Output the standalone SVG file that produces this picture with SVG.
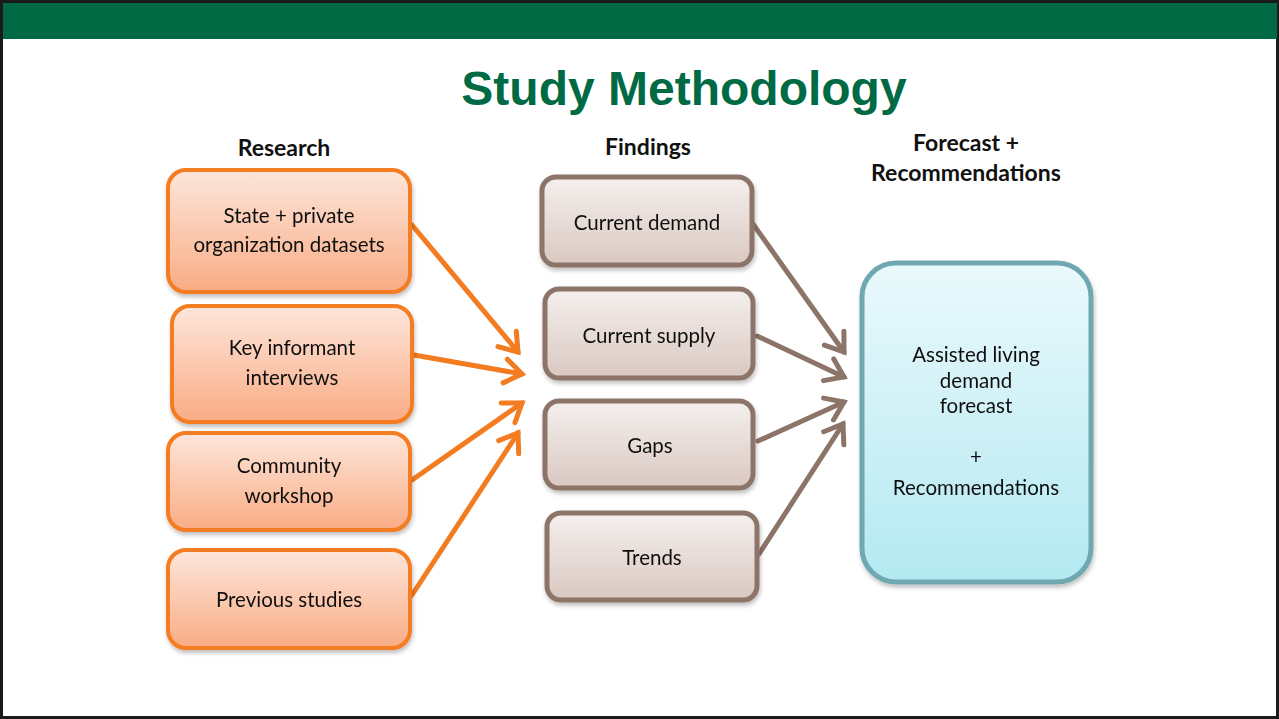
<svg xmlns="http://www.w3.org/2000/svg" width="1279" height="719" viewBox="0 0 1279 719">
<defs>
<linearGradient id="gO" x1="0" y1="0" x2="0" y2="1"><stop offset="0" stop-color="#FDE6DB"/><stop offset="1" stop-color="#F9AC84"/></linearGradient>
<linearGradient id="gB" x1="0" y1="0" x2="0" y2="1"><stop offset="0" stop-color="#F4EFED"/><stop offset="1" stop-color="#DAC8C1"/></linearGradient>
<linearGradient id="gC" x1="0" y1="0" x2="0" y2="1"><stop offset="0" stop-color="#EAF9FC"/><stop offset="1" stop-color="#B3E9F1"/></linearGradient>
<filter id="sh" x="-10%" y="-10%" width="125%" height="130%"><feDropShadow dx="1" dy="3" stdDeviation="2" flood-color="#000" flood-opacity="0.25"/></filter>
<marker id="aO" markerUnits="userSpaceOnUse" viewBox="-25 -15 30 30" refX="0" refY="0" markerWidth="30" markerHeight="30" orient="auto" overflow="visible"><path d="M-17,-12 L0,0 L-17,12" fill="none" stroke="#F47C20" stroke-width="5" stroke-linecap="round" stroke-linejoin="miter"/></marker>
<marker id="aB" markerUnits="userSpaceOnUse" viewBox="-25 -15 30 30" refX="0" refY="0" markerWidth="30" markerHeight="30" orient="auto" overflow="visible"><path d="M-17,-12 L0,0 L-17,12" fill="none" stroke="#8C7468" stroke-width="5" stroke-linecap="round" stroke-linejoin="miter"/></marker>
</defs>
<style>
.t{font-family:Lato,"Open Sans","Noto Sans",sans-serif;font-size:20.5px;fill:#111;text-anchor:middle}
.h{font-family:Lato,"Open Sans","Noto Sans",sans-serif;font-size:23px;font-weight:bold;fill:#111;text-anchor:middle}
.ti{font-family:"Liberation Sans",Arial,sans-serif;font-size:48px;font-weight:bold;fill:#006A45;text-anchor:middle}
.o{fill:url(#gO);stroke:#F47C20;stroke-width:4}
.b{fill:url(#gB);stroke:#8C7468;stroke-width:5}
.c{fill:url(#gC);stroke:#6FA8B2;stroke-width:5}
.lo{stroke:#F47C20;stroke-width:5;fill:none;stroke-linecap:round;marker-end:url(#aO)}
.lb{stroke:#8C7468;stroke-width:5;fill:none;stroke-linecap:round;marker-end:url(#aB)}
</style>
<rect x="0" y="0" width="1279" height="719" fill="#fff"/>
<rect x="1.5" y="1.5" width="1276" height="716" fill="none" stroke="#1a1a1a" stroke-width="3"/>
<rect x="3" y="3" width="1274" height="36" fill="#006A45"/>
<text class="ti" x="684" y="105">Study Methodology</text>
<text class="h" x="284" y="156">Research</text>
<text class="h" x="648" y="155">Findings</text>
<text class="h" x="966" y="151">Forecast +</text>
<text class="h" x="966" y="181">Recommendations</text>
<g id="connectors">
<path class="lo" d="M412,225 L518,352"/>
<path class="lo" d="M414,355 L522,374"/>
<path class="lo" d="M412,480 L522,403"/>
<path class="lo" d="M412,595 L518,433"/>
<path class="lb" d="M753,224 L844,352"/>
<path class="lb" d="M757,336 L844,377"/>
<path class="lb" d="M758,441 L844,402"/>
<path class="lb" d="M759,554 L843,424"/>
</g>
<g id="n-state" filter="url(#sh)"><rect class="o" x="168" y="170" width="242" height="122" rx="18"/><text class="t" x="289" y="223">State + private</text><text class="t" x="289" y="252">organization datasets</text></g>
<g id="n-key" filter="url(#sh)"><rect class="o" x="172" y="306" width="240" height="116" rx="18"/><text class="t" x="292" y="355">Key informant</text><text class="t" x="292" y="385">interviews</text></g>
<g id="n-community" filter="url(#sh)"><rect class="o" x="168" y="433" width="242" height="97" rx="18"/><text class="t" x="289" y="473">Community</text><text class="t" x="289" y="503">workshop</text></g>
<g id="n-previous" filter="url(#sh)"><rect class="o" x="168" y="550" width="242" height="98" rx="18"/><text class="t" x="289" y="607">Previous studies</text></g>
<g id="n-demand" filter="url(#sh)"><rect class="b" x="542" y="177" width="210" height="88" rx="14"/><text class="t" x="647" y="230">Current demand</text></g>
<g id="n-supply" filter="url(#sh)"><rect class="b" x="545" y="289" width="208" height="89" rx="14"/><text class="t" x="649" y="343">Current supply</text></g>
<g id="n-gaps" filter="url(#sh)"><rect class="b" x="545" y="401" width="208" height="87" rx="14"/><text class="t" x="650" y="453">Gaps</text></g>
<g id="n-trends" filter="url(#sh)"><rect class="b" x="547" y="513" width="210" height="87" rx="14"/><text class="t" x="652" y="565">Trends</text></g>
<g id="n-forecast" filter="url(#sh)"><rect class="c" x="862" y="263" width="229" height="319" rx="34"/><text class="t" x="976" y="362">Assisted living</text><text class="t" x="976" y="388">demand</text><text class="t" x="976" y="413">forecast</text><text class="t" x="976" y="464">+</text><text class="t" x="976" y="495">Recommendations</text></g>
</svg>
